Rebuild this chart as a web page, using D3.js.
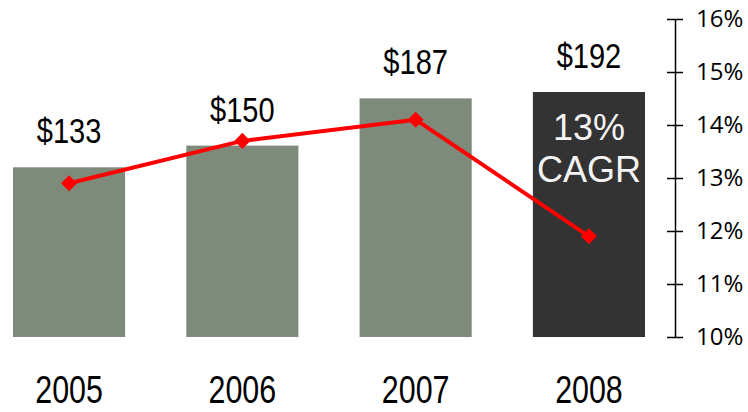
<!DOCTYPE html>
<html>
<head>
<meta charset="utf-8">
<script src="https://cdn.jsdelivr.net/npm/d3@7"></script>
<style>
  html, body { margin: 0; padding: 0; background: #ffffff; }
  svg { display: block; }
</style>
</head>
<body>
<svg id="chart" width="748" height="412"></svg>
<script>
// Revenue by year ($) with growth-rate line (%)
const years = ["2005", "2006", "2007", "2008"];
const revenue = [133, 150, 187, 192];
const growthRate = [12.9, 13.7, 14.1, 11.9];
const rateTicks = [10, 11, 12, 13, 14, 15, 16];
const cagrLines = ["13%", "CAGR"];

const svg = d3.select("#chart");

const x = d3.scaleBand()
  .domain(years)
  .range([13, 645])
  .paddingInner(0.353)
  .paddingOuter(0);

const yBar = d3.scaleLinear().domain([0, 250]).range([337, 18]);
const yRate = d3.scaleLinear().domain([10, 16]).range([337, 19]);

const barFill = (d, i) => i === years.length - 1 ? "#333333" : "#7e8a7a";

// Bars
svg.append("g").selectAll("rect")
  .data(revenue)
  .join("rect")
  .attr("x", (d, i) => x(years[i]))
  .attr("width", x.bandwidth())
  .attr("y", d => yBar(d))
  .attr("height", d => yBar(0) - yBar(d))
  .attr("fill", barFill);

// Value labels above bars (narrow Arial look)
svg.append("g").selectAll("text")
  .data(revenue)
  .join("text")
  .attr("transform", (d, i) => `translate(${x(years[i]) + x.bandwidth() / 2},${yBar(d) - 24}) scale(0.83,1)`)
  .attr("text-anchor", "middle")
  .attr("font-family", "'Liberation Sans', Arial, sans-serif")
  .attr("font-size", 35)
  .attr("fill", "#000")
  .text(d => "$" + d);

// CAGR note inside the last bar
const lastX = x(years[years.length - 1]) + x.bandwidth() / 2;
svg.append("g").selectAll("text")
  .data(cagrLines)
  .join("text")
  .attr("x", lastX)
  .attr("y", (d, i) => 140 + i * 42)
  .attr("text-anchor", "middle")
  .attr("font-family", "'Liberation Sans', Arial, sans-serif")
  .attr("font-size", 36)
  .attr("fill", "#f4f4f4")
  .text(d => d);

// Growth-rate line
const line = d3.line()
  .x((d, i) => x(years[i]) + x.bandwidth() / 2)
  .y(d => yRate(d));

svg.append("path")
  .datum(growthRate)
  .attr("d", line)
  .attr("fill", "none")
  .attr("stroke", "#ff0000")
  .attr("stroke-width", 4)
  .attr("stroke-linejoin", "round");

svg.append("g").selectAll("path")
  .data(growthRate)
  .join("path")
  .attr("d", d3.symbol().type(d3.symbolSquare).size(130))
  .attr("transform", (d, i) => `translate(${x(years[i]) + x.bandwidth() / 2},${yRate(d)}) rotate(45)`)
  .attr("fill", "#ff0000");

// Right-hand percentage axis
const axis = svg.append("g")
  .attr("transform", "translate(675,0)")
  .call(d3.axisRight(yRate)
    .tickValues(rateTicks)
    .tickFormat(d => d + "%")
    .tickSizeInner(8)
    .tickSizeOuter(0)
    .tickPadding(13));

axis.select(".domain").attr("stroke", "#000").attr("stroke-width", 1.5);
axis.selectAll(".tick line").attr("x1", -8).attr("stroke", "#000").attr("stroke-width", 1.5);
axis.selectAll(".tick text")
  .attr("font-family", "'Open Sans', 'Noto Sans', sans-serif")
  .attr("font-size", 24)
  .attr("fill", "#000");

// Year labels along the bottom
svg.append("g").selectAll("text")
  .data(years)
  .join("text")
  .attr("transform", d => `translate(${x(d) + x.bandwidth() / 2},403) scale(0.8,1)`)
  .attr("text-anchor", "middle")
  .attr("font-family", "'Liberation Sans', Arial, sans-serif")
  .attr("font-size", 38)
  .attr("fill", "#000")
  .text(d => d);
</script>
</body>
</html>
